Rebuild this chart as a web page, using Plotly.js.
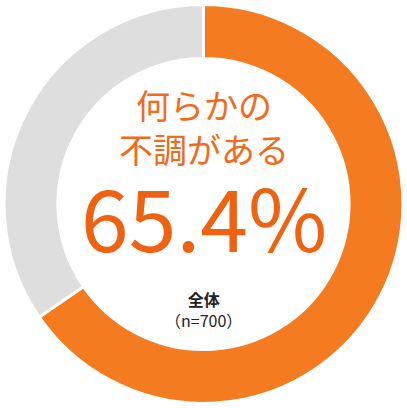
<!DOCTYPE html>
<html>
<head>
<meta charset="utf-8">
<script src="https://cdn.plot.ly/plotly-3.0.1.min.js"></script>
<style>
  html, body { margin: 0; padding: 0; background: #fff; }
  #chart { width: 407px; height: 408px; }
</style>
</head>
<body>
<div id="chart"></div>
<script>
// data
var labels = ['何らかの不調がある', 'なし'];
var values = [65.4, 34.6];
var sliceColors = ['#F47B20', '#DEDEDE'];
var headLines = ['何らかの', '不調がある'];
var bigValue = '65.4%';
var groupLines = ['全体', '（n=700）'];

var W = 407, H = 408;
var jp = '"Noto Sans CJK JP", "Noto Sans", sans-serif';

// pixel y -> paper y
function py(y) { return 1 - y / H; }

function note(text, y, size, color) {
  return {
    text: text,
    x: 0.5, y: py(y),
    xref: 'paper', yref: 'paper',
    xanchor: 'center', yanchor: 'middle',
    showarrow: false,
    font: { family: jp, size: size, color: color }
  };
}

var data = [{
  type: 'pie',
  labels: labels,
  values: values,
  sort: false,
  direction: 'clockwise',
  rotation: 0,
  hole: 0.73,
  textinfo: 'none',
  hoverinfo: 'label+percent',
  marker: { colors: sliceColors, line: { color: '#ffffff', width: 3 } },
  domain: { x: [0.01, 0.99], y: [0.01, 0.99] }
}];

var layout = {
  width: W,
  height: H,
  margin: { l: 0, r: 0, t: 0, b: 0 },
  showlegend: false,
  paper_bgcolor: '#ffffff',
  annotations: [
    note(headLines.join('<br>'), 126, 34, '#F26A1B'),
    note(bigValue, 214, 86, '#EF6212'),
    note('<b>' + groupLines[0] + '</b><br>' + groupLines[1], 309, 16, '#222222')
  ]
};

Plotly.newPlot('chart', data, layout, { displayModeBar: false, staticPlot: true });
</script>
</body>
</html>
